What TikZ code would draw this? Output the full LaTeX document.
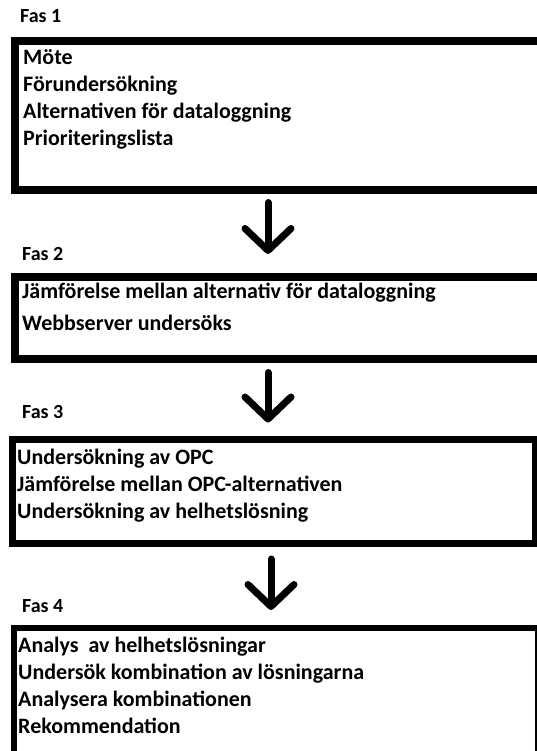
\documentclass[tikz,border=0pt]{standalone}
\usepackage{fontspec}
\setmainfont{Carlito}
\usetikzlibrary{arrows.meta,positioning,calc}
\tikzset{
  fasbox/.style={draw,rectangle,inner sep=0pt,anchor=north west},
  faslabel/.style={anchor=base west,inner sep=0pt,font=\bfseries\fontsize{20}{27}\selectfont},
  fastext/.style={anchor=base west,inner sep=0pt,align=left,font=\bfseries\fontsize{22}{27}\selectfont},
  flowarrow/.style={line width=7pt,line cap=round,
    -{Straight Barb[length=22pt,width=46pt,round]}}
}

\begin{document}
\begin{tikzpicture}[x=1pt,y=-1pt]

  \useasboundingbox (0,0) rectangle (536,751);

  % --------------------------------------------------------------
  % The four phase boxes.
  % --------------------------------------------------------------
  \node[fasbox,line width=8pt,minimum width=534.5pt,minimum height=149pt]
    (box1) at (10.5,37.5) {};
  \node[fasbox,line width=8pt,minimum width=534.5pt,minimum height=81.5pt]
    (box2) at (10.5,273) {};
  \node[fasbox,line width=7pt,minimum width=523.5pt,minimum height=104pt]
    (box3) at (8.5,435.5) {};
  \node[fasbox,line width=6pt,minimum width=524pt,minimum height=126pt]
    (box4) at (11,625) {};

  % --------------------------------------------------------------
  % Phase titles.
  % --------------------------------------------------------------
  \node[faslabel] (fas1) at (20,23)  {Fas 1};
  \node[faslabel] (fas2) at (22,260) {Fas 2};
  \node[faslabel] (fas3) at (22,418) {Fas 3};
  \node[faslabel] (fas4) at (22,612) {Fas 4};

  % --------------------------------------------------------------
  % Contents of each phase (anchored at the last baseline).
  % --------------------------------------------------------------
  \node[fastext] (txt1) at (23,146)
    {Möte\\Förundersökning\\Alternativen för dataloggning\\Prioriteringslista};
  \node[fastext] (txt2) at (22,330)
    {Jämförelse mellan alternativ för dataloggning\\[5pt]Webbserver undersöks};
  \node[fastext] (txt3) at (17,518)
    {Undersökning av OPC\\Jämförelse mellan OPC-alternativen\\Undersökning av helhetslösning};
  \node[fastext] (txt4) at (18,733)
    {Analys\ \ av helhetslösningar\\Undersök kombination av lösningarna\\Analysera kombinationen\\Rekommendation};

  % --------------------------------------------------------------
  % Arrows between the phases.
  % --------------------------------------------------------------
  \coordinate (axis)  at (268,0);
  \coordinate (axisb) at (271,0);

  \draw[flowarrow,shorten <=8pt,shorten >=19pt]
    (box1.south -| axis) -- (box2.north -| axis);
  \draw[flowarrow,shorten <=10pt,shorten >=13pt]
    (box2.south -| axis) -- (box3.north -| axis);
  \draw[flowarrow,shorten <=12.5pt,shorten >=15pt]
    (box3.south -| axisb) -- (box4.north -| axisb);

\end{tikzpicture}
\end{document}
